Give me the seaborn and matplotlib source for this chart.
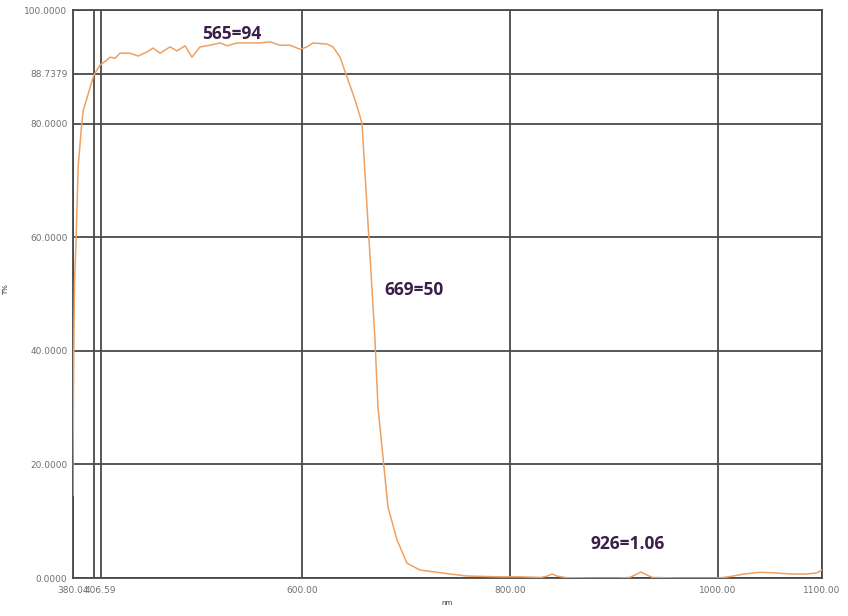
import matplotlib
matplotlib.use("Agg")
import matplotlib.pyplot as plt
import seaborn as sns
import pandas as pd

# ---- data ----
wavelength = [380.04, 380.04, 380.5, 381.0, 381.5, 383.0, 385.0, 388.5, 390.0, 393.0, 396.5,
              400.2, 406.0, 412.7, 415.6, 420.4, 425.2, 434.8, 442.5, 451.2, 456.9,
              463.7, 473.3, 480.0, 487.7, 494.4, 502.1, 511.7, 521.3, 528.1, 537.7,
              550.2, 559.8, 569.4, 579.0, 588.6, 598.2, 605.0, 610.7, 624.2, 630.0,
              636.7, 643.4, 651.1, 657.8, 660.7, 663.6, 667.5, 670.3, 673.2, 678.0,
              682.8, 691.5, 701.1, 713.6, 726.1, 742.4, 758.8, 790.5, 810.0, 830.0,
              835.0, 840.5, 846.0, 855.0, 880.0, 905.0, 915.0, 920.0, 926.0, 932.0,
              937.0, 960.0, 1000.0, 1010.0, 1025.0, 1040.0, 1055.0, 1070.0, 1085.0,
              1095.0, 1100.0]
transmittance = [14.5, 21.0, 33.0, 45.0, 52.0, 59.5, 72.4, 80.1, 82.4, 84.2, 86.4,
                 88.6, 90.3, 91.2, 91.7, 91.5, 92.4, 92.4, 91.9, 92.6, 93.3,
                 92.4, 93.5, 92.8, 93.7, 91.7, 93.5, 93.8, 94.2, 93.7, 94.2,
                 94.2, 94.2, 94.4, 93.8, 93.8, 93.1, 93.5, 94.2, 94.0, 93.5,
                 91.7, 88.2, 84.2, 80.1, 71.3, 62.5, 50.7, 41.9, 30.1, 21.3,
                 12.5, 6.7, 2.6, 1.4, 1.1, 0.7, 0.35, 0.2, 0.2, 0.1,
                 0.3, 0.7, 0.3, 0.05, 0.0, 0.0, 0.1, 0.5, 1.06, 0.5,
                 0.1, 0.0, 0.0, 0.2, 0.7, 1.0, 0.9, 0.7, 0.7,
                 0.9, 1.4]

x_ticks = [380.04, 400.0, 406.59, 600.0, 800.0, 1000.0, 1100.0]
x_tick_labels = ["380.04", "", "406.59", "600.00", "800.00", "1000.00", "1100.00"]
y_ticks = [0.0, 20.0, 40.0, 60.0, 80.0, 88.7379, 100.0]
y_tick_labels = ["0.0000", "20.0000", "40.0000", "60.0000", "80.0000", "88.7379", "100.0000"]

annotations = [("565=94", 532.9, 95.8, "center"),
               ("669=50", 679.0, 50.7, "left"),
               ("926=1.06", 877.0, 6.0, "left")]

df = pd.DataFrame({"nm": wavelength, "T%": transmittance})

sns.set_style("white")
plt.rcParams["font.family"] = ["DejaVu Sans"]

fig = plt.figure(figsize=(8.48, 6.16), dpi=100)
ax = fig.add_axes([73 / 848, 38 / 616, 749 / 848, 568 / 616])

sns.lineplot(data=df, x="nm", y="T%", ax=ax, sort=False, estimator=None,
             color="#F0A060", linewidth=1.1, zorder=3)

ax.set_xlim(380.04, 1100)
ax.set_ylim(0, 100)
ax.set_xticks(x_ticks)
ax.set_xticklabels(x_tick_labels)
ax.set_yticks(y_ticks)
ax.set_yticklabels(y_tick_labels)
ax.tick_params(axis="both", length=0, labelsize=6.5, labelcolor="#707070")
ax.tick_params(axis="x", pad=6)
ax.tick_params(axis="y", pad=4)
ax.grid(True, color="#4a4a4a", linewidth=1.3, zorder=1)
ax.set_axisbelow(True)
for s in ax.spines.values():
    s.set_visible(True)
    s.set_color("#4a4a4a")
    s.set_linewidth(1.3)

ax.set_xlabel("")
ax.set_ylabel("")
fig.text(447 / 848, 1 - 603 / 616, "nm", fontsize=5, color="#333333", ha="center", va="center")
fig.text(6 / 848, 1 - 290 / 616, "T%", fontsize=5, color="#333333", rotation=90,
         ha="center", va="center")

for label, xv, yv, ha in annotations:
    ax.text(xv, yv, label, ha=ha, va="center", fontsize=12.5, fontweight="bold",
            family=["Open Sans", "DejaVu Sans"], color="#3b1f4a", zorder=4)

fig.savefig("out.png", dpi=100)
